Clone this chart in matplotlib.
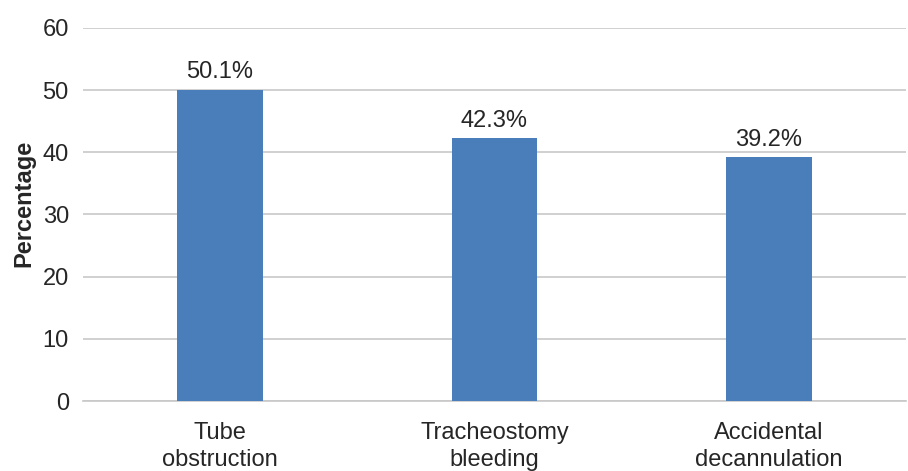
import matplotlib as mpl
mpl.use('Agg')
import matplotlib.pyplot as plt

categories = ['Tube\nobstruction', 'Tracheostomy\nbleeding', 'Accidental\ndecannulation']
values = [50.1, 42.3, 39.2]
labels = ['50.1%', '42.3%', '39.2%']
yticks = [0, 10, 20, 30, 40, 50, 60]

plt.rcParams['font.family'] = ['Liberation Sans', 'DejaVu Sans']

fig = plt.figure(figsize=(9.08, 4.71), dpi=100)
ax = fig.add_axes([0.0911, 0.1486, 0.907, 0.792])

x = range(len(categories))
bars = ax.bar(x, values, width=0.31, color='#4a7ebb', zorder=3)
for b, lab in zip(bars, labels):
  ax.text(b.get_x() + b.get_width() / 2, b.get_height() + 1.0, lab,
          ha='center', va='bottom', fontsize=17, color='#262626')

ax.set_xlim(-0.5, 2.5)
ax.set_ylim(0, 60)
ax.set_yticks(yticks)
ax.set_xticks(list(x))
ax.set_xticklabels(categories, fontsize=17, color='#262626', linespacing=1.3)
ax.tick_params(axis='y', labelsize=17, colors='#262626', length=0, pad=10)
ax.tick_params(axis='x', length=0, pad=15)
ax.grid(axis='y', color='#c8c8c8', linewidth=1.2, zorder=0)
for s in ['top', 'right', 'left']:
  ax.spines[s].set_visible(False)
ax.spines['bottom'].set_color('#c8c8c8')
ax.spines['bottom'].set_linewidth(1.2)
ax.set_ylabel('Percentage', fontsize=17, fontweight='bold', color='#262626')
ax.yaxis.set_label_coords(-0.058, 0.53)

plt.savefig('out.png', dpi=100)
